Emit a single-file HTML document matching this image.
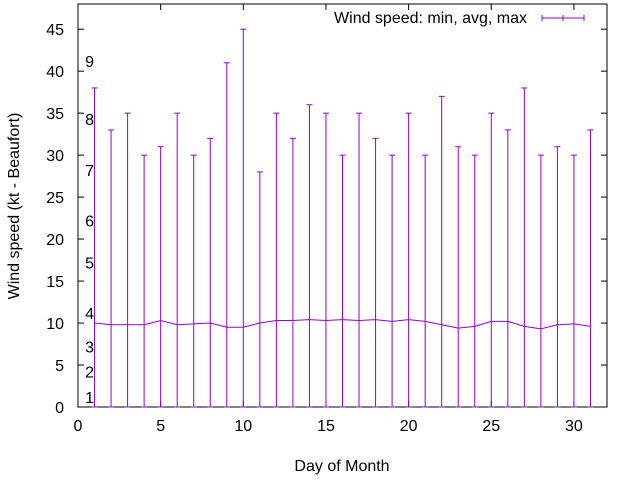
<!DOCTYPE html>
<html><head><meta charset="utf-8"><style>
body{margin:0;background:#fff}
svg text{font-family:"Liberation Sans",sans-serif;font-size:16px;fill:#000}
</style></head><body>
<svg id="c" width="640" height="480"></svg>
<script>
const days=[1,2,3,4,5,6,7,8,9,10,11,12,13,14,15,16,17,18,19,20,21,22,23,24,25,26,27,28,29,30,31];
const minV=[0,0,0,0,0,0,0,0,0,0,0,0,0,0,0,0,0,0,0,0,0,0,0,0,0,0,0,0,0,0,0];
const avgV=[10.0,9.8,9.8,9.8,10.3,9.8,9.9,10.0,9.5,9.5,10.0,10.3,10.3,10.4,10.3,10.4,10.3,10.4,10.2,10.4,10.2,9.8,9.4,9.6,10.2,10.2,9.6,9.3,9.8,9.9,9.6];
const maxV=[38,33,35,30,31,35,30,32,41,45,28,35,32,36,35,30,35,32,30,35,30,37,31,30,35,33,38,30,31,30,33];
const xTicks=[0,5,10,15,20,25,30];
const yTicks=[0,5,10,15,20,25,30,35,40,45];
const bftLabels=["1","2","3","4","5","6","7","8","9"];
const bftVals=[1.2,4.2,7.2,11.2,17.2,22.2,28.2,34.3,41.2];
const L=78,R=607,T=4,B=407;
const X=v=>L+(v-0)*(R-L)/32;
const Y=v=>B-(v-0)*(B-T)/48;
const s=document.getElementById('c');const NS="http://www.w3.org/2000/svg";
function mk(t,a,p){const e=document.createElementNS(NS,t);for(const k in a)e.setAttribute(k,a[k]);(p||s).appendChild(e);return e;}
let e;
e=mk('rect',{x:L,y:T,width:R-L,height:B-T,fill:'none',stroke:'#000','stroke-width':1});


xTicks.forEach(t=>{
 mk('line',{x1:X(t),x2:X(t),y1:B,y2:B-6,stroke:'#000'});mk('line',{x1:X(t),x2:X(t),y1:T,y2:T+6,stroke:'#000'});
 e=mk('text',{x:X(t),y:B+24,'text-anchor':'middle'});e.textContent=t;
 
 
});
yTicks.forEach(t=>{
 mk('line',{x1:L,x2:L+6,y1:Y(t),y2:Y(t),stroke:'#000'});mk('line',{x1:R,x2:R-6,y1:Y(t),y2:Y(t),stroke:'#000'});
 e=mk('text',{x:L-14,y:Y(t)+6,'text-anchor':'end'});e.textContent=t;
 
 
});
bftLabels.forEach((b,i)=>{
 e=mk('text',{x:X(0.7),y:Y(bftVals[i])+6,'text-anchor':'middle'});e.textContent=b;
 
 
});
const col='#9400d3';
days.forEach((d,i)=>{
 const g=mk('g',{stroke:col,'stroke-width':1});
 
 
 mk('line',{x1:X(d),x2:X(d),y1:Y(minV[i]),y2:Y(maxV[i])},g);
 mk('line',{x1:X(d)-3,x2:X(d)+3,y1:Y(minV[i]),y2:Y(minV[i])},g);
 mk('line',{x1:X(d)-3,x2:X(d)+3,y1:Y(maxV[i]),y2:Y(maxV[i])},g);
});
e=mk('polyline',{points:days.map((d,i)=>X(d)+','+Y(avgV[i])).join(' '),fill:'none',stroke:col,'stroke-width':1});


e=mk('text',{x:527,y:23,'text-anchor':'end'});e.textContent='Wind speed: min, avg, max';


const lg=mk('g',{stroke:col});


mk('line',{x1:542,x2:584,y1:18,y2:18},lg);mk('line',{x1:542,x2:542,y1:15,y2:21},lg);mk('line',{x1:584,x2:584,y1:15,y2:21},lg);mk('line',{x1:563,x2:563,y1:15,y2:21},lg);
e=mk('text',{x:342,y:471,'text-anchor':'middle'});e.textContent='Day of Month';


e=mk('text',{x:19,y:206,'text-anchor':'middle',transform:'rotate(-90 19 206)'});e.textContent='Wind speed (kt - Beaufort)';


</script>
</body></html>
